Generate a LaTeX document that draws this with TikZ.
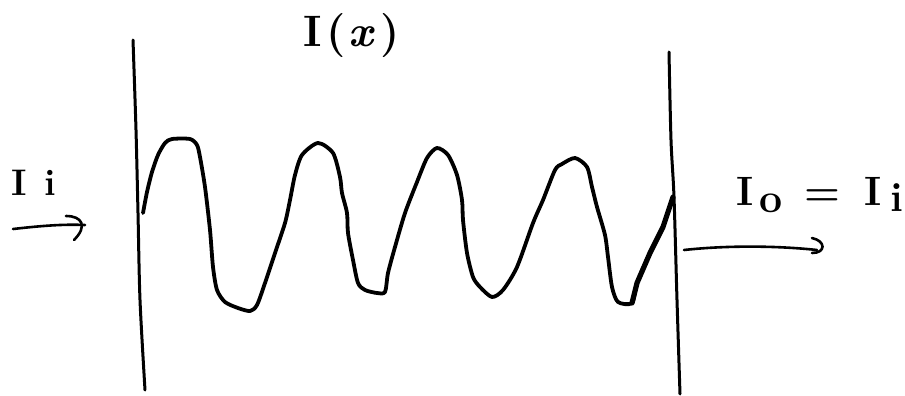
\documentclass[tikz,border=0pt]{standalone}
\usepackage{fontspec}
\begin{document}
\begin{tikzpicture}[x=1pt,y=-1pt,line cap=round,line join=round,
  wall/.style={line width=3pt},
  wave/.style={line width=3.8pt},
  arr/.style={line width=2.6pt},
  lbl/.style={inner sep=0pt}]
\useasboundingbox (0,0) rectangle (905,396);
% walls
\coordinate (lw1) at (133,40);
\coordinate (lw2) at (145,390);
\coordinate (rw1) at (669,52);
\coordinate (rw2) at (680,394);
\draw[wall] plot[smooth,tension=0.5] coordinates {(lw1) (136,130) (138,213) (140,300) (lw2)};
\draw[wall] plot[smooth,tension=0.5] coordinates {(rw1) (671,140) (674,197) (677,300) (rw2)};
% wave
\draw[wave] plot[smooth,tension=0.45] coordinates {
 (143,213) (147,192) (152,172) (158,155) (165,143) (172,139) (190,139) (197,145)
 (200,157) (205,187) (210,230) (213,267) (217,290) (225,302) (238,308) (250,311)
 (257,305) (265,283) (275,253) (285,223) (290,200) (295,175) (302,155) (318,143)
 (333,153) (340,177) (342,193) (347,213) (348,233) (353,260) (358,283) (365,290)
 (377,293) (385,292) (388,273) (395,247) (405,213) (417,182) (427,158) (437,148)
 (448,155) (457,175) (462,200) (463,220) (467,253) (473,277) (480,287) (492,297)
 (503,290) (517,267) (533,223) (543,200) (555,170) (562,164) (575,158) (587,167)
 (592,187) (597,207) (605,235) (608,257) (612,287) (618,302) (632,303) (637,283)
 (650,253) (663,227) (673,197)};
\draw[line width=5.2pt] (632,303) -- (637,283) -- (650,253) -- (663,227) -- (673,197);
% labels
\node[lbl,anchor=base west,font=\fontsize{44}{48}\selectfont\bfseries] (ix) at (303,47) {I\hspace{5pt}(\hspace{3pt}\textit{x}\hspace{5pt})};
\node[lbl,anchor=base west,font=\fontsize{37}{40}\selectfont\bfseries] (ii) at (11,195) {I\hspace{18pt}i};
\node[lbl,anchor=base west,font=\fontsize{41}{44}\selectfont\bfseries] (io) at (736,205) {I\hspace{6pt}\raisebox{-7pt}{o}\hspace{22pt}=\hspace{24pt}I\hspace{9pt}\raisebox{-6pt}{i}};
% arrows
\coordinate (la1) at (13,229);
\coordinate (la2) at (85,225);
\draw[arr] (la1) .. controls (40,226) and (62,224) .. (la2);
\draw[arr] (66,216) .. controls (82,216) and (88,226) .. (74,240);
\coordinate (ra1) at (684,250);
\coordinate (ra2) at (817,250);
\draw[arr] (ra1) .. controls (730,245) and (780,246) .. (ra2);
\draw[arr] (812,238) .. controls (826,241) and (826,253) .. (812,253);
\end{tikzpicture}
\end{document}
